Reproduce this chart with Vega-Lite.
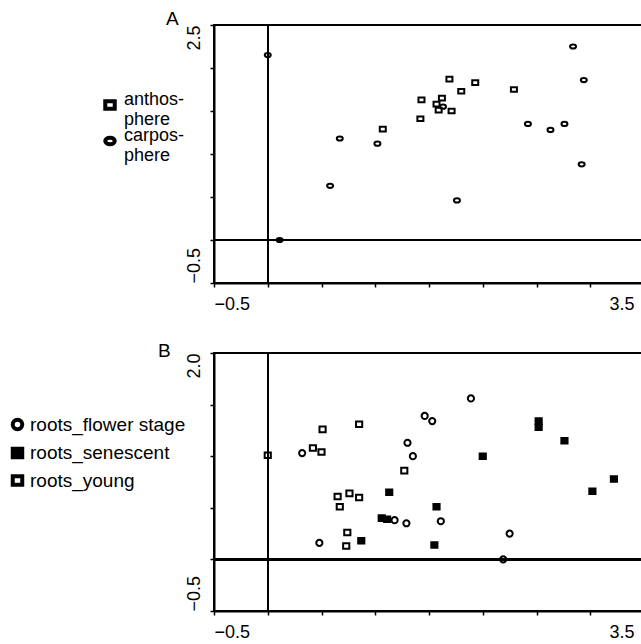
{
  "$schema": "https://vega.github.io/schema/vega-lite/v6.json",
  "padding": {"left": 7, "top": 9, "right": 0, "bottom": 0},
  "background": "white",
  "config": {
    "font": "Liberation Sans",
    "view": {"stroke": "black", "strokeWidth": 2},
    "point": {"strokeWidth": 4},
    "axis": {"domainColor": "black", "domainWidth": 2, "tickColor": "black", "tickWidth": 1.5, "tickSize": 4, "grid": false, "labelColor": "black", "labelFontSize": 18, "labelFont": "Liberation Sans", "title": null, "labelOverlap": false},
    "legend": {"labelFontSize": 18, "labelFont": "Liberation Sans", "labelColor": "black", "padding": 0, "symbolStrokeWidth": 4, "labelLimit": 300, "title": null},
    "title": {"fontSize": 19, "fontWeight": "normal", "color": "black", "anchor": "start", "frame": "group", "font": "Liberation Sans"}
  },
  "resolve": {
    "scale": {"shape": "independent", "fill": "independent", "x": "independent", "y": "independent"},
    "legend": {"shape": "independent", "fill": "independent"}
  },
  "datasets": {
    "a": [
      {"group": "anthosphere", "x": 1.69, "y": 1.87},
      {"group": "anthosphere", "x": 1.93, "y": 1.83},
      {"group": "anthosphere", "x": 1.80, "y": 1.73},
      {"group": "anthosphere", "x": 2.29, "y": 1.75},
      {"group": "anthosphere", "x": 1.43, "y": 1.63},
      {"group": "anthosphere", "x": 1.62, "y": 1.65},
      {"group": "anthosphere", "x": 1.57, "y": 1.58},
      {"group": "anthosphere", "x": 1.59, "y": 1.51},
      {"group": "anthosphere", "x": 1.71, "y": 1.50},
      {"group": "anthosphere", "x": 1.42, "y": 1.41},
      {"group": "anthosphere", "x": 1.07, "y": 1.29},
      {"group": "carposphere", "x": 0.0, "y": 2.15},
      {"group": "carposphere", "x": 0.11, "y": 0.0},
      {"group": "carposphere", "x": 2.84, "y": 2.25},
      {"group": "carposphere", "x": 2.94, "y": 1.86},
      {"group": "carposphere", "x": 1.63, "y": 1.55},
      {"group": "carposphere", "x": 2.42, "y": 1.35},
      {"group": "carposphere", "x": 2.63, "y": 1.28},
      {"group": "carposphere", "x": 2.76, "y": 1.35},
      {"group": "carposphere", "x": 2.92, "y": 0.88},
      {"group": "carposphere", "x": 0.67, "y": 1.18},
      {"group": "carposphere", "x": 1.02, "y": 1.12},
      {"group": "carposphere", "x": 0.58, "y": 0.63},
      {"group": "carposphere", "x": 1.76, "y": 0.46}
    ],
    "b": [
      {"group": "roots_flower stage", "x": 0.32, "y": 1.03},
      {"group": "roots_flower stage", "x": 0.48, "y": 0.16},
      {"group": "roots_flower stage", "x": 1.89, "y": 1.56},
      {"group": "roots_flower stage", "x": 1.46, "y": 1.39},
      {"group": "roots_flower stage", "x": 1.53, "y": 1.34},
      {"group": "roots_flower stage", "x": 1.30, "y": 1.13},
      {"group": "roots_flower stage", "x": 1.35, "y": 1.00},
      {"group": "roots_flower stage", "x": 1.18, "y": 0.38},
      {"group": "roots_flower stage", "x": 1.29, "y": 0.35},
      {"group": "roots_flower stage", "x": 1.61, "y": 0.37},
      {"group": "roots_flower stage", "x": 2.25, "y": 0.25},
      {"group": "roots_flower stage", "x": 2.19, "y": 0.0},
      {"group": "roots_senescent", "x": 1.13, "y": 0.65},
      {"group": "roots_senescent", "x": 1.06, "y": 0.40},
      {"group": "roots_senescent", "x": 1.11, "y": 0.39},
      {"group": "roots_senescent", "x": 0.87, "y": 0.18},
      {"group": "roots_senescent", "x": 1.57, "y": 0.51},
      {"group": "roots_senescent", "x": 1.55, "y": 0.14},
      {"group": "roots_senescent", "x": 2.00, "y": 1.00},
      {"group": "roots_senescent", "x": 2.52, "y": 1.34},
      {"group": "roots_senescent", "x": 2.52, "y": 1.28},
      {"group": "roots_senescent", "x": 2.76, "y": 1.15},
      {"group": "roots_senescent", "x": 3.22, "y": 0.78},
      {"group": "roots_senescent", "x": 3.02, "y": 0.66},
      {"group": "roots_young", "x": 0.0, "y": 1.01},
      {"group": "roots_young", "x": 0.85, "y": 1.31},
      {"group": "roots_young", "x": 0.51, "y": 1.26},
      {"group": "roots_young", "x": 0.42, "y": 1.08},
      {"group": "roots_young", "x": 0.50, "y": 1.04},
      {"group": "roots_young", "x": 0.65, "y": 0.61},
      {"group": "roots_young", "x": 0.76, "y": 0.64},
      {"group": "roots_young", "x": 0.85, "y": 0.60},
      {"group": "roots_young", "x": 0.67, "y": 0.51},
      {"group": "roots_young", "x": 0.74, "y": 0.26},
      {"group": "roots_young", "x": 0.73, "y": 0.13},
      {"group": "roots_young", "x": 1.27, "y": 0.86}
    ]
  },
  "spacing": 70,
  "bounds": "flush",
  "vconcat": [
    {
      "width": 430,
      "height": 258,
      "title": {"text": "A", "dx": -48, "offset": -20, "baseline": "alphabetic"},
      "data": {"name": "a"},
      "layer": [
        {"mark": {"type": "rule", "color": "black", "strokeWidth": 1.5}, "encoding": {"x": {"datum": 0, "type": "quantitative"}}},
        {"mark": {"type": "rule", "color": "black", "strokeWidth": 1.5}, "encoding": {"y": {"datum": 0, "type": "quantitative"}}},
        {
          "mark": {"type": "point", "filled": false, "stroke": "black", "strokeWidth": 2, "opacity": 1, "size": 36},
          "encoding": {
            "x": {"field": "x", "type": "quantitative", "scale": {"domain": [-0.5, 3.5], "nice": false, "zero": false},
              "axis": {"values": [-0.5, 0, 0.5, 1, 1.5, 2, 2.5, 3, 3.5], "format": ".1f", "labelExpr": "datum.value == -0.5 || datum.value == 3.5 ? datum.label : ''", "labelFlush": true, "labelPadding": 8,
                "labelOffset": {"condition": {"test": "datum.value > 3", "value": -10}, "value": 0}}},
            "y": {"field": "y", "type": "quantitative", "scale": {"domain": [-0.5, 2.5], "nice": false, "zero": false},
              "axis": {"values": [-0.5, 0, 0.5, 1, 1.5, 2, 2.5], "format": ".1f", "labelExpr": "datum.value == -0.5 || datum.value == 2.5 ? datum.label : ''", "labelAngle": -90, "labelBaseline": "bottom", "labelPadding": 7, "labelFlush": false,
                "labelAlign": {"condition": {"test": "datum.value > 0", "value": "right"}, "value": "left"}}},
            "shape": {"field": "group", "type": "nominal",
              "scale": {"domain": ["anthosphere", "carposphere"], "range": ["M-1,-0.78L1,-0.78L1,0.78L-1,0.78Z", "M-1,0A1,0.7,0,1,0,1,0A1,0.7,0,1,0,-1,0Z"]},
              "legend": {"orient": "none", "legendX": -113, "legendY": 71, "symbolSize": 90, "symbolStrokeWidth": 4, "labelOffset": 5, "rowPadding": -2,
                "labelExpr": "[slice(datum.label, 0, 6) + '-', slice(datum.label, 6)]", "labelBaseline": "alphabetic"}}
          }
        }
      ]
    },
    {
      "width": 430,
      "height": 258,
      "title": {"text": "B", "dx": -56, "offset": -24, "baseline": "alphabetic"},
      "data": {"name": "b"},
      "layer": [
        {"mark": {"type": "rule", "color": "black", "strokeWidth": 1.5}, "encoding": {"x": {"datum": 0, "type": "quantitative"}}},
        {"mark": {"type": "rule", "color": "black", "strokeWidth": 1.5}, "encoding": {"y": {"datum": 0, "type": "quantitative"}}},
        {
          "mark": {"type": "point", "stroke": "black", "strokeWidth": 2, "opacity": 1, "size": 38},
          "encoding": {
            "x": {"field": "x", "type": "quantitative", "scale": {"domain": [-0.5, 3.5], "nice": false, "zero": false},
              "axis": {"values": [-0.5, 0, 0.5, 1, 1.5, 2, 2.5, 3, 3.5], "format": ".1f", "labelExpr": "datum.value == -0.5 || datum.value == 3.5 ? datum.label : ''", "labelFlush": true, "labelPadding": 8,
                "labelOffset": {"condition": {"test": "datum.value > 3", "value": -10}, "value": 0}}},
            "y": {"field": "y", "type": "quantitative", "scale": {"domain": [-0.5, 2.0], "nice": false, "zero": false},
              "axis": {"values": [-0.5, 0, 0.5, 1, 1.5, 2], "format": ".1f", "labelExpr": "datum.value == -0.5 || datum.value == 2 ? datum.label : ''", "labelAngle": -90, "labelBaseline": "bottom", "labelPadding": 7, "labelFlush": false,
                "labelAlign": {"condition": {"test": "datum.value > 0", "value": "right"}, "value": "left"}}},
            "shape": {"field": "group", "type": "nominal",
              "scale": {"domain": ["roots_flower stage", "roots_senescent", "roots_young"], "range": ["circle", "M-1,-0.9L1,-0.9L1,0.9L-1,0.9Z", "M-1,-0.9L1,-0.9L1,0.9L-1,0.9Z"]},
              "legend": {"orient": "none", "legendX": -206, "legendY": 62, "symbolSize": 90, "symbolStrokeWidth": 4, "labelOffset": 3, "rowPadding": 2.5, "labelFontSize": 19}},
            "fill": {"field": "group", "type": "nominal",
              "scale": {"domain": ["roots_flower stage", "roots_senescent", "roots_young"], "range": ["transparent", "black", "transparent"]},
              "legend": {"orient": "none", "legendX": -206, "legendY": 62, "symbolSize": 90, "symbolStrokeWidth": 4, "labelOffset": 3, "rowPadding": 2.5, "labelFontSize": 19}}
          }
        }
      ]
    }
  ]
}
